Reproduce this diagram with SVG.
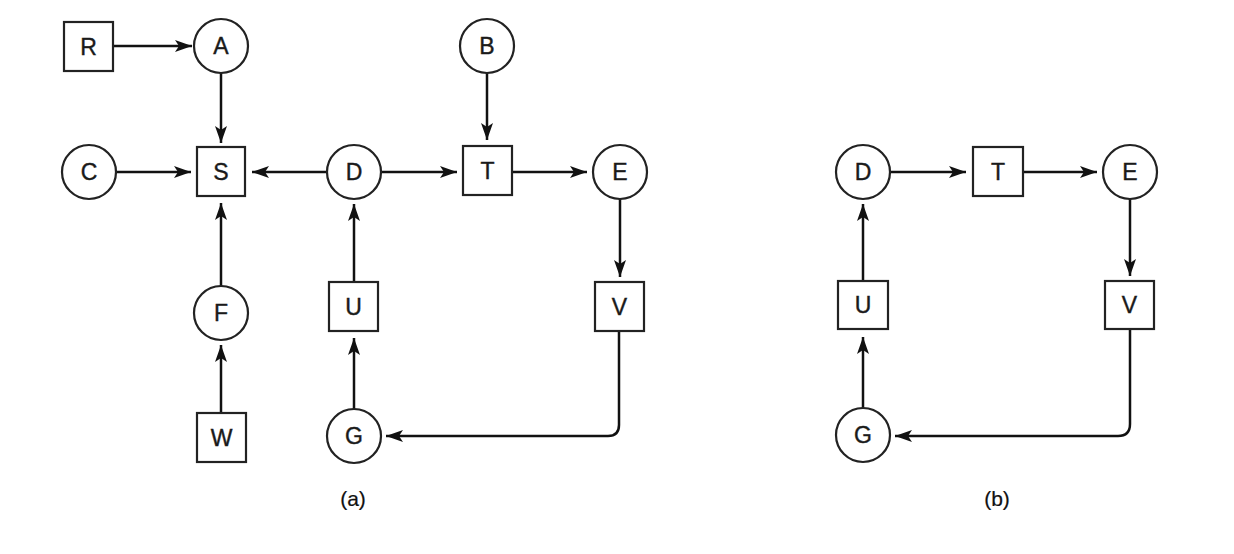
<svg xmlns="http://www.w3.org/2000/svg" width="1234" height="554" viewBox="0 0 1234 554">
<style>
.n{fill:#fff;stroke:#222;stroke-width:2.2}
.t{font-family:"Liberation Sans",Arial,sans-serif;font-size:23px;fill:#1a1a1a;stroke:#1a1a1a;stroke-width:0.4;text-anchor:middle;dominant-baseline:central}
.c{fill:none;stroke:#111;stroke-width:2.5}
.cap{font-family:"Liberation Sans",Arial,sans-serif;font-size:21px;fill:#111;stroke:#111;stroke-width:0.2;text-anchor:middle}
</style>
<defs>
<marker id="ar" markerUnits="userSpaceOnUse" markerWidth="18" markerHeight="14" refX="17" refY="7" orient="auto">
<path d="M0,1 L17,7 L0,13 L4,7 z" fill="#111"/>
</marker>
</defs>
<rect width="1234" height="554" fill="#fff"/>
<g id="connectors">
<line class="c" x1="113" y1="46" x2="192" y2="46" marker-end="url(#ar)"/>
<line class="c" x1="221" y1="73" x2="221" y2="143" marker-end="url(#ar)"/>
<line class="c" x1="116" y1="172" x2="191" y2="172" marker-end="url(#ar)"/>
<line class="c" x1="327" y1="172" x2="252" y2="172" marker-end="url(#ar)"/>
<line class="c" x1="381" y1="172" x2="457" y2="172" marker-end="url(#ar)"/>
<line class="c" x1="487" y1="73" x2="487" y2="140" marker-end="url(#ar)"/>
<line class="c" x1="512" y1="172" x2="587" y2="172" marker-end="url(#ar)"/>
<line class="c" x1="620" y1="199" x2="620" y2="277" marker-end="url(#ar)"/>
<line class="c" x1="221" y1="286" x2="221" y2="203" marker-end="url(#ar)"/>
<line class="c" x1="221" y1="412" x2="221" y2="345" marker-end="url(#ar)"/>
<line class="c" x1="354" y1="282" x2="354" y2="204" marker-end="url(#ar)"/>
<line class="c" x1="354" y1="409" x2="354" y2="338" marker-end="url(#ar)"/>
<path class="c" d="M619,331 L619,425 Q619,436 608,436 L386,436" marker-end="url(#ar)"/>
<line class="c" x1="890" y1="172" x2="966" y2="172" marker-end="url(#ar)"/>
<line class="c" x1="1023" y1="172" x2="1097" y2="172" marker-end="url(#ar)"/>
<line class="c" x1="1130" y1="199" x2="1130" y2="276" marker-end="url(#ar)"/>
<line class="c" x1="863" y1="281" x2="863" y2="204" marker-end="url(#ar)"/>
<line class="c" x1="863" y1="408" x2="863" y2="337" marker-end="url(#ar)"/>
<path class="c" d="M1130,329 L1130,424 Q1130,436 1118,436 L895,436" marker-end="url(#ar)"/>
</g>
<g id="R"><rect class="n" x="64" y="22" width="49" height="49"/><text class="t" x="88.5" y="46.5">R</text></g>
<g id="A"><circle class="n" cx="221" cy="46" r="27"/><text class="t" x="221" y="46">A</text></g>
<g id="B"><circle class="n" cx="487" cy="46" r="27"/><text class="t" x="487" y="46">B</text></g>
<g id="C"><circle class="n" cx="89" cy="172" r="27"/><text class="t" x="89" y="172">C</text></g>
<g id="S"><rect class="n" x="197" y="147" width="48" height="49"/><text class="t" x="221" y="171.5">S</text></g>
<g id="D"><circle class="n" cx="354" cy="172" r="27"/><text class="t" x="354" y="172">D</text></g>
<g id="T"><rect class="n" x="463" y="146" width="49" height="49"/><text class="t" x="487.5" y="170.5">T</text></g>
<g id="E"><circle class="n" cx="620" cy="172" r="27"/><text class="t" x="620" y="172">E</text></g>
<g id="F"><circle class="n" cx="221" cy="313" r="27"/><text class="t" x="221" y="313">F</text></g>
<g id="U"><rect class="n" x="329" y="282" width="49" height="49"/><text class="t" x="353.5" y="306.5">U</text></g>
<g id="V"><rect class="n" x="595" y="282" width="49" height="49"/><text class="t" x="619.5" y="306.5">V</text></g>
<g id="W"><rect class="n" x="197" y="413" width="49" height="49"/><text class="t" x="221.5" y="437.5">W</text></g>
<g id="G"><circle class="n" cx="354" cy="436" r="27"/><text class="t" x="354" y="436">G</text></g>
<g id="D2"><circle class="n" cx="863" cy="172" r="27"/><text class="t" x="863" y="172">D</text></g>
<g id="T2"><rect class="n" x="973" y="147" width="50" height="49"/><text class="t" x="998" y="171.5">T</text></g>
<g id="E2"><circle class="n" cx="1130" cy="172" r="27"/><text class="t" x="1130" y="172">E</text></g>
<g id="U2"><rect class="n" x="838" y="281" width="50" height="48"/><text class="t" x="863" y="305">U</text></g>
<g id="V2"><rect class="n" x="1105" y="281" width="49" height="48"/><text class="t" x="1129.5" y="305">V</text></g>
<g id="G2"><circle class="n" cx="863" cy="435" r="27"/><text class="t" x="863" y="435">G</text></g>
<text class="cap" x="353" y="506">(a)</text>
<text class="cap" x="997" y="506">(b)</text>
</svg>
